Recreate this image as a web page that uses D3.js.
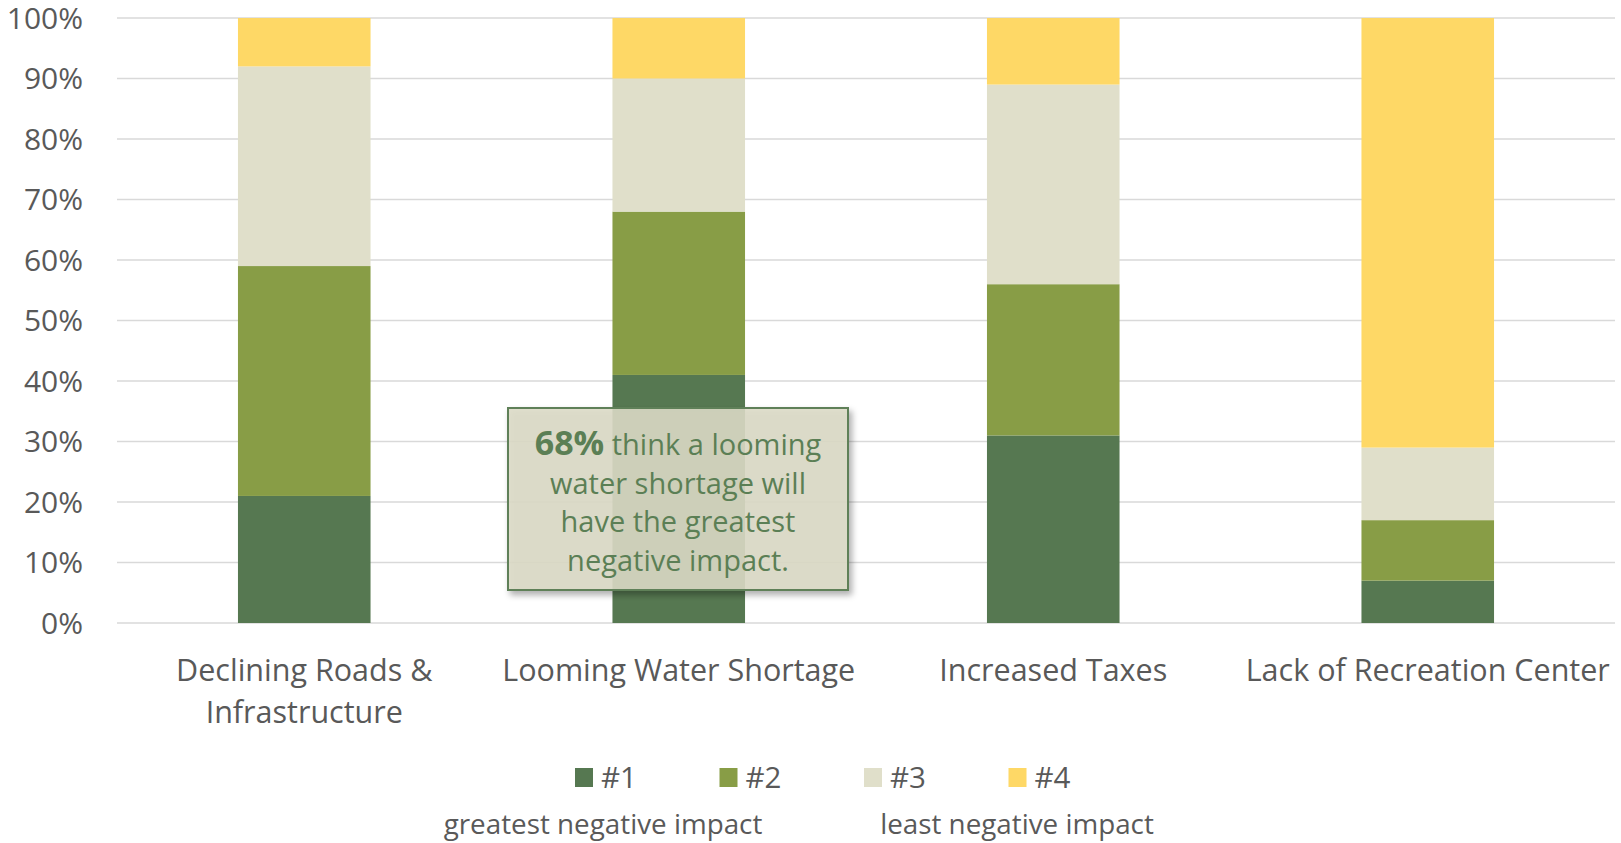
<!DOCTYPE html>
<html>
<head>
<meta charset="utf-8">
<script src="https://d3js.org/d3.v7.min.js"></script>
<style>
  body { margin: 0; background: #fff; }
  svg { display: block; font-family: "Open Sans", sans-serif; }
</style>
</head>
<body>
<svg width="1621" height="843"></svg>
<script>
var categories = [["Declining Roads &", "Infrastructure"], ["Looming Water Shortage"], ["Increased Taxes"], ["Lack of Recreation Center"]];
var keys = ["#1", "#2", "#3", "#4"];
var rank1 = [21, 41, 31, 7];
var rank2 = [38, 27, 25, 10];
var rank3 = [33, 22, 33, 12];
var rank4 = [8, 10, 11, 71];
var yTicks = [0, 10, 20, 30, 40, 50, 60, 70, 80, 90, 100];
var noteLines = [["68%", " think a looming"], ["", "water shortage will"], ["", "have the greatest"], ["", "negative impact."]];

var svg = d3.select("svg"),
    margin = {top: 18, right: 6, bottom: 220, left: 117},
    width = +svg.attr("width") - margin.left - margin.right,
    height = +svg.attr("height") - margin.top - margin.bottom,
    g = svg.append("g").attr("transform", "translate(" + margin.left + "," + margin.top + ")");

var data = categories.map(function(c, i) {
  return {name: c.join(" "), lines: c, "#1": rank1[i], "#2": rank2[i], "#3": rank3[i], "#4": rank4[i]};
});

var x = d3.scaleBand()
    .domain(data.map(function(d) { return d.name; }))
    .range([0, width])
    .paddingInner(0.646)
    .paddingOuter(0.323);
var y = d3.scaleLinear().domain([0, 100]).range([height, 0]);
var z = d3.scaleOrdinal().domain(keys).range(["#567851", "#889d46", "#e0dfca", "#fed866"]);

// gridlines
g.append("g")
  .selectAll("line")
  .data(yTicks)
  .enter().append("line")
    .attr("x1", 0)
    .attr("x2", width)
    .attr("y1", function(d) { return y(d); })
    .attr("y2", function(d) { return y(d); })
    .attr("stroke", "#d9d9d9")
    .attr("stroke-width", 1.5);

// y labels
g.append("g")
    .attr("text-anchor", "end")
    .attr("font-size", 30)
    .attr("fill", "#595959")
  .selectAll("text")
  .data(yTicks)
  .enter().append("text")
    .attr("x", -34)
    .attr("y", function(d) { return y(d); })
    .attr("dy", "0.35em")
    .text(function(d) { return d + "%"; });

var stack = d3.stack().keys(keys)(data);

g.append("g")
  .selectAll("g")
  .data(stack)
  .enter().append("g")
    .attr("fill", function(d) { return z(d.key); })
  .selectAll("rect")
  .data(function(d) { return d; })
  .enter().append("rect")
    .attr("x", function(d) { return x(d.data.name); })
    .attr("y", function(d) { return y(d[1]); })
    .attr("height", function(d) { return y(d[0]) - y(d[1]); })
    .attr("width", x.bandwidth());

// category labels
var cat = g.append("g")
    .attr("text-anchor", "middle")
    .attr("font-size", 30.5)
    .attr("fill", "#595959")
  .selectAll("text")
  .data(data)
  .enter().append("text")
    .attr("transform", function(d) { return "translate(" + (x(d.name) + x.bandwidth() / 2) + "," + (height + 58) + ")"; });
cat.selectAll("tspan")
  .data(function(d) { return d.lines; })
  .enter().append("tspan")
    .attr("x", 0)
    .attr("y", function(d, i) { return i * 42; })
    .text(function(d) { return d; });

// legend
var legend = svg.append("g")
    .attr("font-size", 29.5)
    .attr("fill", "#595959")
  .selectAll("g")
  .data(keys)
  .enter().append("g")
    .attr("transform", function(d, i) { return "translate(" + (575 + i * 144.5) + ",768)"; });
legend.append("rect")
    .attr("width", 18)
    .attr("height", 19)
    .attr("fill", z);
legend.append("text")
    .attr("x", 26)
    .attr("y", 9.5)
    .attr("dy", "0.35em")
    .text(function(d) { return d; });

svg.append("g")
    .attr("font-size", 27.8)
    .attr("fill", "#595959")
    .attr("text-anchor", "middle")
  .selectAll("text")
  .data([["greatest negative impact", 603], ["least negative impact", 1017]])
  .enter().append("text")
    .attr("x", function(d) { return d[1]; })
    .attr("y", 824)
    .attr("dy", "0.35em")
    .text(function(d) { return d[0]; });

// annotation box
var defs = svg.append("defs");
var f = defs.append("filter").attr("id", "shadow").attr("x", "-10%").attr("y", "-10%").attr("width", "130%").attr("height", "130%");
f.append("feDropShadow").attr("dx", 3).attr("dy", 4).attr("stdDeviation", 3).attr("flood-color", "#000").attr("flood-opacity", 0.35);

var note = svg.append("g");
note.append("rect")
    .attr("x", 508)
    .attr("y", 408)
    .attr("width", 340)
    .attr("height", 182)
    .attr("fill", "#dcdbc6")
    .attr("fill-opacity", 0.88)
    .attr("stroke", "#5f8058")
    .attr("stroke-width", 2)
    .attr("filter", "url(#shadow)");
note.append("g")
    .attr("font-size", 29)
    .attr("fill", "#5b7f55")
    .attr("text-anchor", "middle")
  .selectAll("text")
  .data(noteLines)
  .enter().append("text")
    .attr("x", 678)
    .attr("y", function(d, i) { return 445 + i * 38.5; })
    .attr("dy", "0.35em")
    .each(function(d) {
      var t = d3.select(this);
      if (d[0]) t.append("tspan").attr("font-weight", "bold").attr("font-size", 34).text(d[0]);
      t.append("tspan").text(d[1]);
    });
</script>
</body>
</html>
